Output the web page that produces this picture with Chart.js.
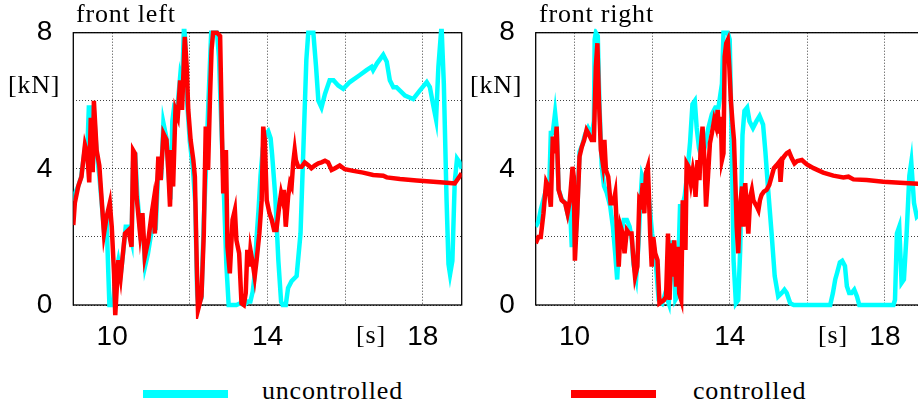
<!DOCTYPE html>
<html>
<head>
<meta charset="utf-8">
<script src="https://cdn.jsdelivr.net/npm/chart.js@4.4.1/dist/chart.umd.min.js"></script>
<style>
  html, body { margin:0; padding:0; background:#fff; width:918px; height:409px; overflow:hidden; }
  .wrap { position:absolute; top:0; }
  .lbl { position:absolute; font-family:'Liberation Serif', serif; font-size:26px; color:#000; white-space:nowrap; letter-spacing:0.8px; line-height:1; }
  .sw { position:absolute; height:8px; }
</style>
</head>
<body>
<div class="wrap" style="left:0;width:470px;height:362px"><canvas id="cFL" width="470" height="362"></canvas></div>
<div class="wrap" style="left:460px;width:475px;height:362px"><canvas id="cFR" width="475" height="362"></canvas></div>

<div class="lbl" style="left:76px;top:1px">front left</div>
<div class="lbl" style="left:539px;top:1px">front right</div>
<div class="lbl" style="left:8px;top:72px">[kN]</div>
<div class="lbl" style="left:470px;top:72px">[kN]</div>
<div class="lbl" style="left:356px;top:322px">[s]</div>
<div class="lbl" style="left:818px;top:322px">[s]</div>

<div class="sw" style="left:143px;top:390px;width:85px;background:#00ffff"></div>
<div class="lbl" style="left:262px;top:378px">uncontrolled</div>
<div class="sw" style="left:571px;top:390px;width:85px;background:#ff0000"></div>
<div class="lbl" style="left:693px;top:378px">controlled</div>

<script>
// ---- data (time [s], force [kN]) ----
const X_TICKS = [10, 12, 14, 16, 18];
const X_LABELS = [10, 14, 18];
const Y_TICKS = [0, 2, 4, 6, 8];
const Y_LABELS = [0, 4, 8];

// front left, uncontrolled
const FL_UNC_T = [9.0,9.05,9.13,9.2,9.3,9.36,9.4,9.46,9.5,9.53,9.6,9.67,9.73,9.79,9.86,9.9,9.93,10.03,10.07,10.16,10.22,10.28,10.35,10.42,10.5,10.54,10.6,10.65,10.72,10.78,10.85,10.92,11.02,11.06,11.12,11.2,11.26,11.32,11.4,11.45,11.5,11.55,11.6,11.68,11.75,11.8,11.85,11.88,11.93,12.0,12.08,12.14,12.19,12.22,12.3,12.36,12.42,12.48,12.55,12.7,12.75,12.82,12.88,12.94,13.0,13.2,13.3,13.4,13.5,13.56,13.62,13.66,13.72,13.77,13.82,13.88,13.95,14.02,14.08,14.12,14.2,14.28,14.35,14.39,14.47,14.53,14.62,14.75,14.85,14.93,15.0,15.05,15.18,15.25,15.31,15.39,15.48,15.6,15.7,15.82,15.95,16.12,16.37,16.55,16.68,16.72,16.82,16.98,17.07,17.15,17.24,17.32,17.41,17.54,17.75,17.92,18.1,18.18,18.27,18.34,18.4,18.48,18.54,18.61,18.66,18.7,18.76,18.82,18.88,18.94,19.0];
const FL_UNC_V = [3.05,3.3,3.5,3.75,4.6,4.5,5.8,5.8,4.3,5.7,4.5,3.8,3.0,2.2,2.4,1.0,0,0,0.75,1.3,0.9,1.5,2.3,2.3,1.9,4.2,4.3,3.2,2.2,2.4,1.15,1.5,2.2,2.9,2.2,4.3,3.7,5.35,4.9,3.9,3.1,5.4,5.85,5.8,6.7,6.4,8.2,7.8,6.0,4.8,4.0,3.0,0.3,0,0.2,2.5,4.1,6.0,8.0,8.0,7.3,5.0,3.2,1.2,0,0,0.05,0,0.1,0.1,0.4,0.8,2.0,2.8,3.8,4.6,5.0,5.1,4.9,4.4,3.2,1.3,0.1,0,0,0.5,0.7,0.85,2.1,4.8,7.2,8.0,8.0,7.0,6.0,5.8,6.2,6.6,6.6,6.45,6.35,6.55,6.75,6.9,7.0,6.9,7.1,7.35,7.15,6.6,6.4,6.4,6.3,6.15,6.05,6.3,6.55,6.4,5.85,5.45,7.0,8.2,6.5,3.1,1.2,0.9,1.3,3.6,4.3,4.2,4.0];

// front left, controlled
const FL_CTL_T = [9.0,9.04,9.13,9.21,9.3,9.36,9.41,9.45,9.5,9.53,9.6,9.67,9.73,9.79,9.86,9.94,9.99,10.05,10.08,10.16,10.22,10.27,10.33,10.42,10.5,10.54,10.59,10.63,10.72,10.78,10.84,10.93,11.02,11.06,11.1,11.19,11.25,11.32,11.4,11.45,11.49,11.53,11.57,11.63,11.69,11.75,11.8,11.87,11.92,11.96,12.02,12.09,12.13,12.18,12.21,12.3,12.36,12.41,12.47,12.52,12.56,12.6,12.7,12.78,12.82,12.86,12.93,12.97,13.03,13.1,13.16,13.2,13.27,13.33,13.39,13.44,13.48,13.53,13.56,13.62,13.67,13.72,13.79,13.85,13.89,13.93,13.98,14.05,14.11,14.17,14.23,14.3,14.35,14.39,14.42,14.47,14.53,14.58,14.62,14.66,14.7,14.73,14.79,14.88,14.96,15.05,15.13,15.22,15.31,15.39,15.48,15.56,15.65,15.74,15.86,15.99,16.21,16.46,16.72,16.98,17.07,17.41,17.84,18.27,18.61,18.82,18.94,19.0];
const FL_CTL_V = [2.35,3.0,3.5,3.77,4.7,4.45,3.6,5.5,3.9,6.0,4.55,4.1,3.1,2.1,2.6,3.0,2.3,0.9,-0.3,1.32,0.83,1.42,2.1,2.2,1.71,4.55,4.45,3.18,2.1,2.7,1.42,1.9,2.7,3.0,2.1,4.36,3.67,5.04,4.85,3.87,2.89,4.55,3.48,5.73,5.53,6.6,5.73,7.88,7.0,5.73,4.85,4.26,3.77,1.13,-0.15,0.25,2.1,5.24,3.97,6.12,7.5,8.0,8.0,7.9,5.5,3.28,4.55,1.71,0.93,2.5,2.79,1.9,1.52,0.05,0,0.35,1.62,1.13,1.62,1.22,0.83,1.32,2.1,3.08,5.24,4.85,3.08,2.7,2.5,2.2,2.2,2.89,3.28,3.08,3.38,2.3,3.18,3.58,3.48,4.16,4.55,4.26,4.06,4.06,4.19,4.11,4.02,4.1,4.16,4.19,4.24,4.19,3.97,4.02,4.1,3.99,3.94,3.89,3.82,3.8,3.75,3.7,3.66,3.62,3.59,3.57,3.77,3.87];

// front right, uncontrolled
const FR_UNC_T = [9.0,9.07,9.13,9.2,9.27,9.35,9.39,9.44,9.5,9.54,9.59,9.67,9.76,9.82,9.88,9.93,9.98,10.03,10.07,10.13,10.2,10.27,10.35,10.44,10.5,10.52,10.55,10.6,10.64,10.7,10.76,10.83,10.92,10.99,11.05,11.1,11.15,11.2,11.27,11.35,11.42,11.48,11.52,11.59,11.65,11.7,11.74,11.83,11.92,12.0,12.09,12.17,12.26,12.34,12.43,12.52,12.56,12.6,12.65,12.72,12.78,12.84,12.91,12.98,13.04,13.1,13.15,13.21,13.28,13.37,13.45,13.54,13.63,13.71,13.8,13.84,13.95,14.0,14.05,14.1,14.16,14.22,14.27,14.33,14.38,14.45,14.51,14.6,14.69,14.77,14.86,14.92,14.99,15.08,15.16,15.25,15.34,15.41,15.47,15.56,15.65,16.59,16.66,16.72,16.77,16.84,16.9,16.97,17.02,17.08,17.14,17.21,17.28,17.34,18.22,18.26,18.31,18.37,18.43,18.49,18.56,18.63,18.68,18.75,18.82,18.9,19.0];
const FR_UNC_V = [2.3,2.45,2.8,3.1,3.4,3.5,5.05,5.05,5.65,5.2,3.4,3.1,3.0,2.7,3.0,1.7,3.8,2.0,2.7,4.5,4.7,5.0,5.2,5.0,5.4,7.8,8.0,7.9,6.0,4.1,3.5,3.3,2.9,2.3,1.5,0.75,1.9,2.1,2.5,2.5,2.3,1.9,1.2,0.8,1.8,3.1,3.8,3.5,3.1,2.1,1.3,0.15,0.05,0.35,0.05,1.9,1.3,0.15,0.25,2.9,2.9,3.2,3.9,4.8,5.9,6.0,5.2,4.6,4.3,4.7,5.2,5.6,5.8,5.8,6.5,8.0,8.0,7.8,5.0,1.3,0.05,0.15,1.6,5.0,5.7,5.8,5.4,5.2,5.4,5.55,5.3,4.5,3.4,2.1,0.85,0.25,0.35,0.45,0.35,0.05,0,0,0.35,0.75,0.95,1.25,1.3,1.15,0.55,0.35,0.35,0.45,0.25,0,0,0.15,2.1,2.3,0.65,0.75,2.1,3.8,4.2,3.0,2.6,2.7,2.9];

// front right, controlled
const FR_CTL_T = [9.0,9.07,9.13,9.2,9.27,9.33,9.39,9.44,9.49,9.54,9.59,9.67,9.76,9.82,9.88,9.95,9.98,10.01,10.07,10.13,10.19,10.25,10.31,10.36,10.44,10.5,10.55,10.59,10.63,10.68,10.73,10.77,10.81,10.87,10.93,11.0,11.05,11.09,11.14,11.19,11.24,11.29,11.35,11.41,11.47,11.52,11.56,11.62,11.67,11.71,11.76,11.8,11.84,11.89,11.91,11.95,11.99,12.03,12.08,12.14,12.19,12.25,12.31,12.36,12.41,12.45,12.49,12.53,12.57,12.62,12.66,12.7,12.75,12.79,12.82,12.86,12.89,12.94,13.0,13.05,13.08,13.12,13.17,13.22,13.25,13.3,13.35,13.39,13.44,13.49,13.54,13.6,13.65,13.69,13.73,13.77,13.8,13.84,13.87,13.91,13.95,13.99,14.03,14.08,14.11,14.15,14.18,14.22,14.25,14.28,14.32,14.35,14.4,14.44,14.48,14.53,14.57,14.61,14.65,14.7,14.74,14.78,14.82,14.88,14.95,15.02,15.08,15.14,15.21,15.28,15.31,15.35,15.4,15.47,15.53,15.6,15.67,15.74,15.86,15.98,16.16,16.41,16.67,16.93,17.06,17.19,17.53,17.96,18.39,18.85,19.0];
const FR_CTL_V = [1.81,2.0,2.0,2.69,3.62,3.48,2.89,4.95,4.46,5.24,3.38,3.08,2.99,2.69,3.08,4.06,3.77,1.3,2.69,4.36,4.65,4.85,5.14,5.04,4.85,4.85,7.0,7.69,6.02,4.55,4.16,4.85,3.97,3.77,2.99,2.99,3.28,2.3,1.13,2.3,2.1,1.52,2.2,2.1,2.1,1.32,0.83,1.13,3.08,2.99,3.58,2.69,3.87,4.06,3.48,2.1,1.13,2.0,1.52,1.32,0.05,0.1,0.15,0.25,2.1,0.15,1.81,0.83,1.9,0.54,1.71,0.34,0.15,3.08,2.3,1.62,4.16,4.06,3.58,3.97,3.77,3.18,4.26,3.67,4.55,5.24,4.26,2.89,3.77,4.75,5.04,5.44,5.24,5.73,5.04,5.53,4.26,4.46,7.3,7.69,7.79,7.0,6.02,5.24,4.85,3.48,2.3,1.52,2.5,3.08,3.48,2.3,3.58,2.89,2.1,3.18,3.38,3.08,2.99,2.89,2.79,3.08,3.23,3.33,3.38,3.53,3.77,4.02,4.11,4.21,3.62,4.26,4.36,4.46,4.5,4.31,4.16,4.23,4.26,4.14,4.02,3.89,3.8,3.75,3.77,3.69,3.67,3.62,3.59,3.56,3.55];

// ---- drawing ----
const CYAN = '#00ffff';
const RED  = '#ff0000';
const TICK_FONT = { family: "'Liberation Sans', Arial, sans-serif", size: 28 };

function pts(ts, vs) { return ts.map((t, i) => ({ x: t, y: vs[i] })); }

const frameBox = {
  id: 'frameBox',
  beforeDatasetsDraw(chart) {
    const a = chart.chartArea, ctx = chart.ctx;
    ctx.save();
    ctx.strokeStyle = '#000';
    ctx.lineWidth = 1.3;
    ctx.strokeRect(a.left, a.top, a.right - a.left, a.bottom - a.top);
    ctx.restore();
  }
};

function makeChart(id, unc, ctl, yAxisW, padRight) {
  return new Chart(document.getElementById(id), {
    type: 'line',
    data: {
      datasets: [
        { label: 'uncontrolled', data: unc, borderColor: CYAN, borderWidth: 4.5, pointRadius: 0, tension: 0, order: 2, clip: { left: 0, top: 4, right: 0, bottom: 14 } },
        { label: 'controlled',   data: ctl, borderColor: RED,  borderWidth: 4.5, pointRadius: 0, tension: 0, order: 1, clip: { left: 0, top: 4, right: 0, bottom: 14 } }
      ]
    },
    options: {
      responsive: false, animation: false, devicePixelRatio: 1,
      layout: { padding: { top: 32.7, right: padRight, left: 0, bottom: 0 } },
      plugins: { legend: { display: false }, tooltip: { enabled: false } },
      scales: {
        x: {
          type: 'linear', min: 9, max: 19,
          afterBuildTicks: s => { s.ticks = X_TICKS.map(v => ({ value: v })); },
          afterFit: s => { s.height = 57; s.paddingLeft = 0; s.paddingRight = 0; },
          ticks: { font: TICK_FONT, color: '#000', padding: 15, maxRotation: 0, autoSkip: false,
                   callback: v => X_LABELS.includes(v) ? String(v) : '' },
          grid: { color: 'rgba(0,0,0,0.75)', lineWidth: 1, drawTicks: false },
          border: { display: false, dash: [1, 2] }
        },
        y: {
          min: 0, max: 8,
          afterBuildTicks: s => { s.ticks = Y_TICKS.map(v => ({ value: v })); },
          afterFit: s => { s.width = yAxisW; s.paddingTop = 0; s.paddingBottom = 0; },
          ticks: { font: TICK_FONT, color: '#000', padding: 21, autoSkip: false,
                   callback: v => Y_LABELS.includes(v) ? String(v) : '' },
          grid: { color: 'rgba(0,0,0,0.75)', lineWidth: 1, drawTicks: false },
          border: { display: false, dash: [1, 2] }
        }
      }
    },
    plugins: [frameBox]
  });
}

makeChart('cFL', pts(FL_UNC_T, FL_UNC_V), pts(FL_CTL_T, FL_CTL_V), 73.3, 8.3);
makeChart('cFR', pts(FR_UNC_T, FR_UNC_V), pts(FR_CTL_T, FR_CTL_V), 75.7, 11.3);
</script>
</body>
</html>
